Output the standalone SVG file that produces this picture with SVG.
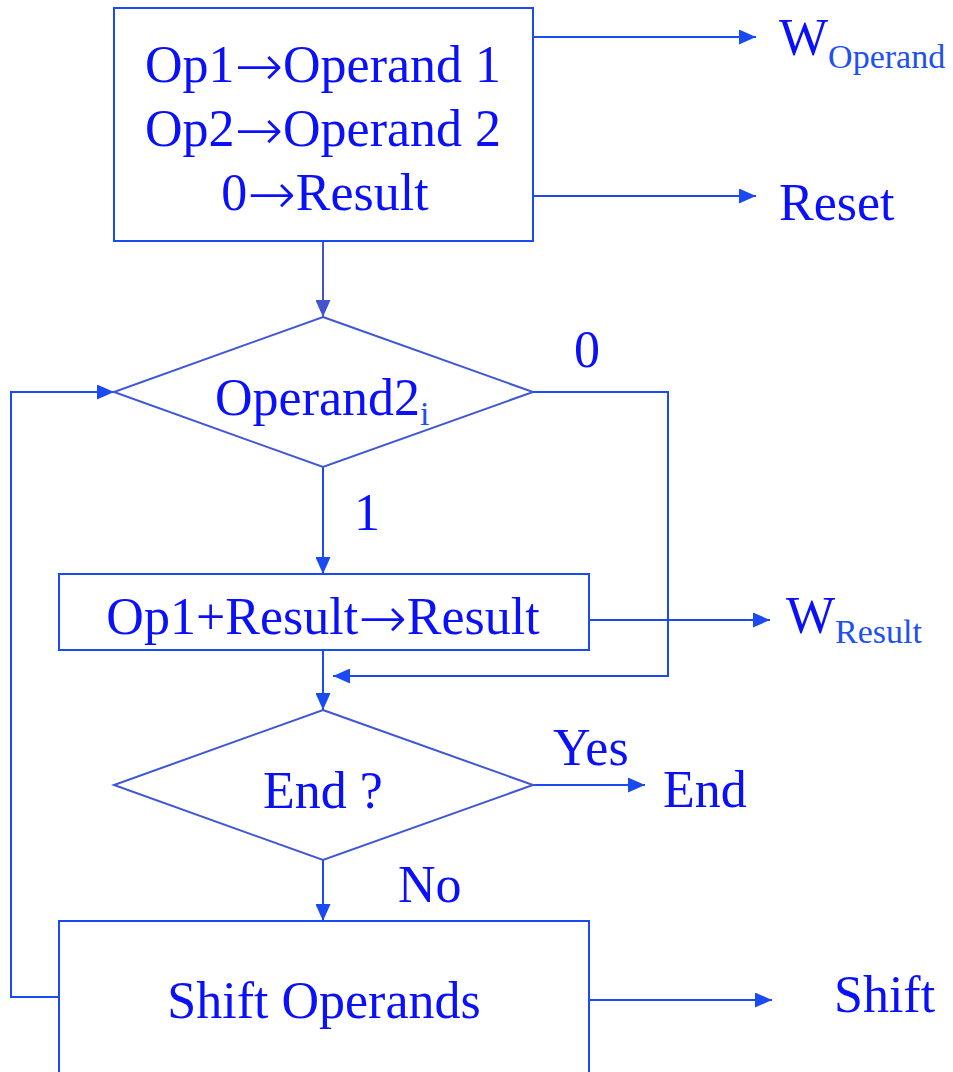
<svg xmlns="http://www.w3.org/2000/svg" width="953" height="1072" viewBox="0 0 953 1072">
<style>
.box{fill:none;stroke:#1a4af2;stroke-width:2}
.dia{fill:none;stroke:#3f56d8;stroke-width:2}
.ln{fill:none;stroke:#1a4af2;stroke-width:2}
.t{font-family:"Liberation Serif","Times New Roman",serif;font-size:52px;fill:#0a10f8}
.sub{font-size:34px;fill:#2050f0}
.ar{font-family:"DejaVu Sans",sans-serif;font-size:58px;font-weight:200}
.c{text-anchor:middle}
</style>
<defs>
<marker id="ah" viewBox="0 0 17 15" refX="17" refY="7.5" markerWidth="17" markerHeight="15" markerUnits="userSpaceOnUse" orient="auto">
<path d="M0,0 L17,7.5 L0,15 z" fill="#1a4af2"/>
</marker>
<marker id="ah2" viewBox="0 0 17 15" refX="17" refY="7.5" markerWidth="17" markerHeight="15" markerUnits="userSpaceOnUse" orient="auto">
<path d="M0,0 L17,7.5 L0,15 z" fill="#4455cc"/>
</marker>
</defs>
<g id="connectors">
<line class="ln" x1="533" y1="37" x2="756" y2="37" marker-end="url(#ah)"/>
<line class="ln" x1="533" y1="196" x2="756" y2="196" marker-end="url(#ah)"/>
<line x1="323" y1="241" x2="323" y2="317" stroke="#4455cc" stroke-width="2" marker-end="url(#ah2)"/>
<polyline class="ln" points="533,392 668,392 668,676 333,676" marker-end="url(#ah)"/>
<polyline class="ln" points="59,997 11,997 11,392 114,392" marker-end="url(#ah)"/>
<line class="ln" x1="323" y1="467" x2="323" y2="574" marker-end="url(#ah)"/>
<line class="ln" x1="589" y1="620" x2="770" y2="620" marker-end="url(#ah)"/>
<line class="ln" x1="323" y1="650" x2="323" y2="710" marker-end="url(#ah)"/>
<line class="ln" x1="533" y1="785" x2="645" y2="785" marker-end="url(#ah)"/>
<line class="ln" x1="323" y1="860" x2="323" y2="921" marker-end="url(#ah)"/>
<line class="ln" x1="589" y1="1000" x2="772" y2="1000" marker-end="url(#ah)"/>
<text class="t" x="574" y="367">0</text>
<text class="t" x="354" y="530">1</text>
<text class="t" x="553" y="765">Yes</text>
<text class="t" x="398" y="902">No</text>
</g>
<g id="init">
<rect class="box" x="114" y="8" width="419" height="233"/>
<text class="t c" x="323" y="82">Op1<tspan class="ar" dy="4">→</tspan><tspan dy="-4">Operand 1</tspan></text>
<text class="t c" x="323" y="146">Op2<tspan class="ar" dy="4">→</tspan><tspan dy="-4">Operand 2</tspan></text>
<text class="t c" x="325" y="210">0<tspan class="ar" dy="4">→</tspan><tspan dy="-4">Result</tspan></text>
</g>
<g id="w-operand"><text class="t" x="779" y="55">W<tspan class="sub" dy="13">Operand</tspan></text></g>
<g id="reset"><text class="t" x="779" y="220">Reset</text></g>
<g id="test-bit">
<polygon class="dia" points="323,317 533,392 323,467 114,392"/>
<text class="t" x="215" y="415">Operand2<tspan class="sub" dy="10">i</tspan></text>
</g>
<g id="add">
<rect class="box" x="59" y="574" width="530" height="76"/>
<text class="t c" x="323" y="634">Op1+Result<tspan class="ar" dy="4">→</tspan><tspan dy="-4">Result</tspan></text>
</g>
<g id="w-result"><text class="t" x="786" y="633">W<tspan class="sub" dy="10">Result</tspan></text></g>
<g id="end-test">
<polygon class="dia" points="323,710 533,785 323,860 114,785"/>
<text class="t c" x="323" y="808">End ?</text>
</g>
<g id="end"><text class="t" x="663" y="807">End</text></g>
<g id="shift-ops">
<rect class="box" x="59" y="921" width="530" height="170"/>
<text class="t c" x="324" y="1018">Shift Operands</text>
</g>
<g id="shift"><text class="t" x="834" y="1012">Shift</text></g>
</svg>
